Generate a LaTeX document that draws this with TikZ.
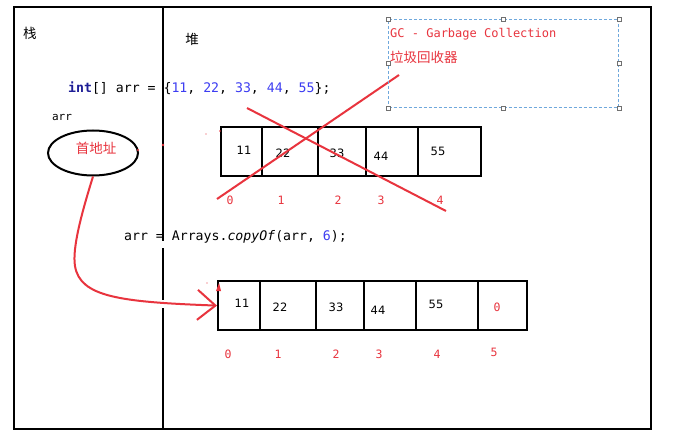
\documentclass[tikz,border=0pt]{standalone}
\usepackage{fontspec}
\setmainfont{DejaVu Sans}
\setmonofont{DejaVu Sans Mono}
\newfontfamily\cjk{Noto Sans CJK SC}
\usetikzlibrary{arrows.meta,shapes.geometric}
\definecolor{gcred}{HTML}{E8343E}
\definecolor{kwblue}{HTML}{1E1E96}
\definecolor{numblue}{HTML}{3D3DF2}
\definecolor{handlegray}{HTML}{707070}
\definecolor{dashblue}{HTML}{6FA8DC}
\newcommand\nb[1]{\textcolor{numblue}{#1}}
\begin{document}
\begin{tikzpicture}[x=1pt,y=-1pt,
  frameline/.style={line width=2.4pt,black},
  cell/.style={draw,line width=2.2pt,minimum height=49pt,inner sep=0pt,anchor=north west},
  val/.style={inner sep=0pt,font=\fontsize{11.5}{12}\selectfont},
  idx/.style={inner sep=0pt,text=gcred,font=\ttfamily\fontsize{11.5}{12}\selectfont},
  code/.style={inner sep=0pt,anchor=west,font=\ttfamily\fontsize{13.2}{14}\selectfont},
  cjklabel/.style={inner sep=0pt,font=\cjk\fontsize{13.5}{14}\selectfont},
  xline/.style={gcred,line width=2pt},
  redarrow/.style={gcred,line width=2pt,-{Straight Barb[length=18pt,width=30pt,line width=2pt]}},
  handle/.style={draw=handlegray,fill=white,minimum size=4pt,inner sep=0pt,line width=0.6pt},
]
\useasboundingbox (0,0) rectangle (674,441);
\fill[white] (0,0) rectangle (674,441);

% outer frame and divider
\draw[frameline] (14,7) rectangle (651,429);
\draw[line width=2.2pt] (163,7) -- (163,241);
\draw[line width=2.2pt] (163,248) -- (163,300);
\draw[line width=2.2pt] (163,308) -- (163,429);

% titles
\node[cjklabel] (stack) at (30,33) {栈};
\node[cjklabel] (heap) at (192,39) {堆};

% code lines
\node[code] (code1) at (68,88) {\textbf{\textcolor{kwblue}{int}}[] arr = \{\nb{11}, \nb{22}, \nb{33}, \nb{44}, \nb{55}\};};
\node[code] (code2) at (124,237) {arr = Arrays.\textit{copyOf}(arr, \nb{6});};

% stack variable
\node[inner sep=0pt,font=\ttfamily\fontsize{11}{12}\selectfont] (arrlbl) at (62,117) {arr};
\node[draw,ellipse,line width=2pt,minimum width=90pt,minimum height=45pt,inner sep=0pt] (ptr) at (93,153) {};
\node[cjklabel,text=gcred] (addr) at (96,148) {首地址};

% top array
\node[cell,minimum width=41pt] (a0) at (220,126) {};
\node[cell,minimum width=56pt] (a1) at (261,126) {};
\node[cell,minimum width=48pt] (a2) at (317,126) {};
\node[cell,minimum width=52pt] (a3) at (365,126) {};
\node[cell,minimum width=63pt] (a4) at (417,126) {};
\node[val] (av0) at (244,150) {11};
\node[val] (av1) at (283,153) {22};
\node[val] (av2) at (337,153) {33};
\node[val] (av3) at (381,156) {44};
\node[val] (av4) at (438,151) {55};
\node[idx] (ai0) at (230,200) {0};
\node[idx] (ai1) at (281,200) {1};
\node[idx] (ai2) at (338,200) {2};
\node[idx] (ai3) at (381,200) {3};
\node[idx] (ai4) at (440,200) {4};

% red cross
\coordinate (x1a) at (217,199);
\coordinate (x1b) at (399,75);
\coordinate (x2a) at (247,108);
\coordinate (x2b) at (446,211);
\draw[xline] (x1a) -- (x1b);
\draw[xline] (x2a) -- (x2b);

% GC box
\node[draw=dashblue,dashed,dash pattern=on 3pt off 2pt,line width=1pt,minimum width=230pt,minimum height=88pt,inner sep=0pt,anchor=north west] (gc) at (388,19) {};
\foreach \a in {north west,north,north east,west,east,south west,south,south east}
  \node[handle] at (gc.\a) {};
\node[inner sep=0pt,anchor=west,text=gcred,font=\ttfamily\fontsize{12}{13}\selectfont] (gctext) at (390,34) {GC - Garbage Collection};
\node[cjklabel,anchor=west,text=gcred] (gccn) at (390,57) {垃圾回收器};

% bottom array
\node[cell,minimum width=42pt] (b0) at (217,280) {};
\node[cell,minimum width=56pt] (b1) at (259,280) {};
\node[cell,minimum width=48pt] (b2) at (315,280) {};
\node[cell,minimum width=52pt] (b3) at (363,280) {};
\node[cell,minimum width=62pt] (b4) at (415,280) {};
\node[cell,minimum width=49pt] (b5) at (477,280) {};
\node[val] (bv0) at (242,303) {11};
\node[val] (bv1) at (280,307) {22};
\node[val] (bv2) at (336,307) {33};
\node[val] (bv3) at (378,310) {44};
\node[val] (bv4) at (436,304) {55};
\node[idx] (bv5) at (497,307) {0};
\node[idx] (bi0) at (228,354) {0};
\node[idx] (bi1) at (278,354) {1};
\node[idx] (bi2) at (336,354) {2};
\node[idx] (bi3) at (379,354) {3};
\node[idx] (bi4) at (437,354) {4};
\node[idx] (bi5) at (494,352) {5};

% reference arrow
\draw[redarrow] (ptr.south) .. controls (82,212) and (72,248) .. (75,266)
  .. controls (80,297) and (120,302) .. (b0.west);

% small red marks
\fill[gcred] (163,145) circle (1.3pt);
\fill[gcred] (138,150) circle (1.1pt);
\fill[gcred] (206,134) circle (0.7pt);
\fill[gcred] (220,131) circle (0.8pt);
\fill[gcred] (207,283) circle (0.6pt);
\fill[gcred] (216,291) -- (219,283) -- (221,291) -- cycle;
\end{tikzpicture}
\end{document}
